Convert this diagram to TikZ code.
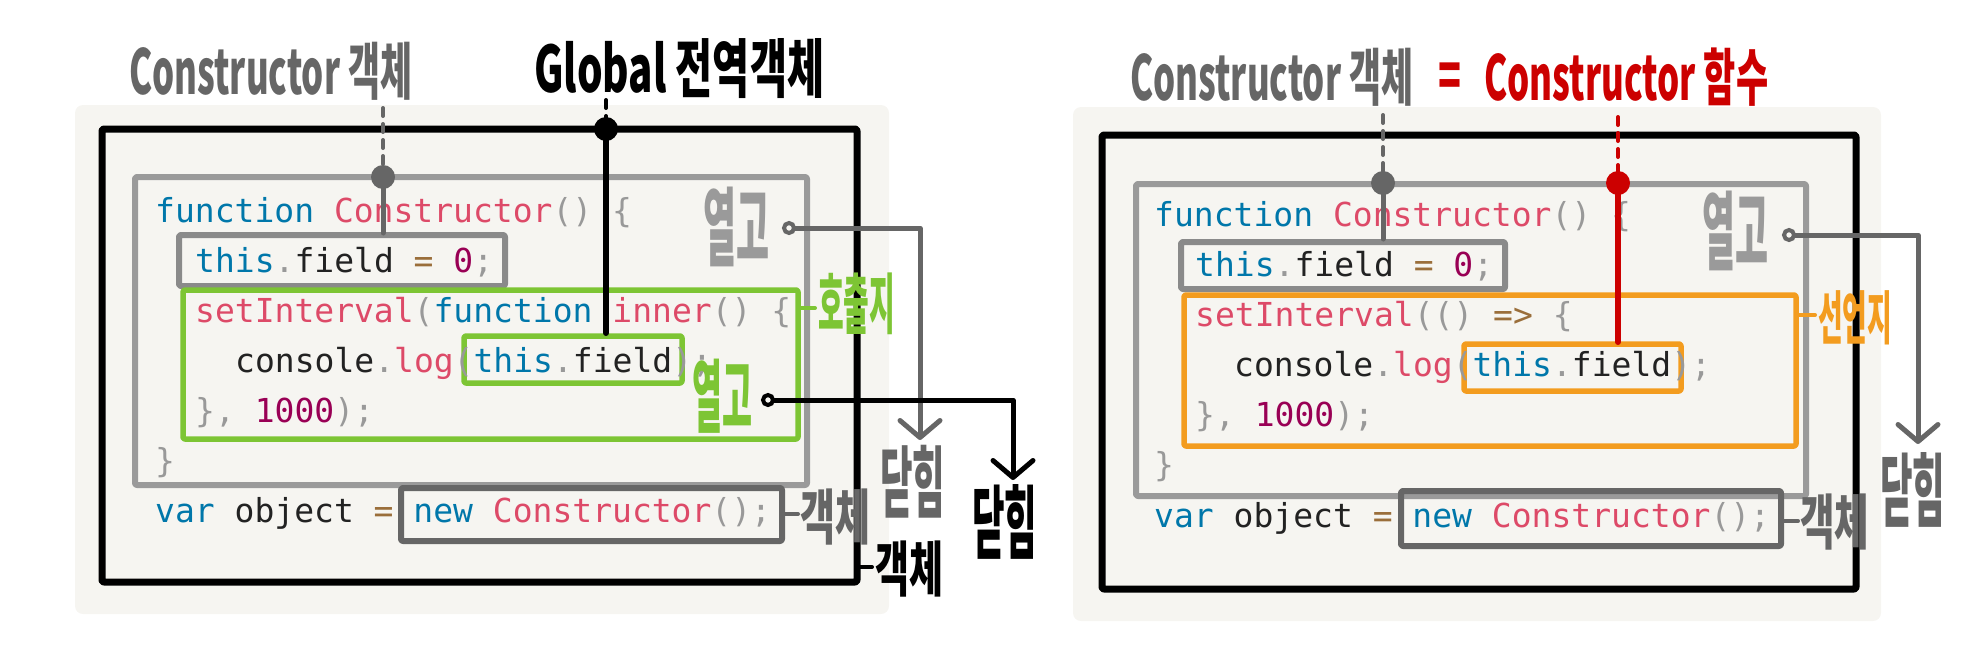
\documentclass[tikz,border=0pt]{standalone}
\usepackage{fontspec}
\usetikzlibrary{arrows.meta}
\newfontfamily\codefont{DejaVu Sans Mono}
\newfontfamily\krfont{Noto Sans CJK KR}
\definecolor{bgc}{HTML}{F6F5F1}
\definecolor{kw}{HTML}{0077AA}
\definecolor{fn}{HTML}{DD4A68}
\definecolor{pu}{HTML}{999999}
\definecolor{op}{HTML}{9A6E3A}
\definecolor{nu}{HTML}{990055}
\definecolor{tx}{HTML}{222222}
\definecolor{gA}{HTML}{9A9A9A}
\definecolor{gB}{HTML}{8A8A8A}
\definecolor{gC}{HTML}{666666}
\definecolor{grn}{HTML}{7DC534}
\definecolor{org}{HTML}{F39C1F}
\definecolor{rd}{HTML}{CC0000}
\newcommand\ckw[1]{\textcolor{kw}{#1}}
\newcommand\cfn[1]{\textcolor{fn}{#1}}
\newcommand\cpu[1]{\textcolor{pu}{#1}}
\newcommand\cop[1]{\textcolor{op}{#1}}
\newcommand\cnu[1]{\textcolor{nu}{#1}}
\newcommand\hw[2]{\resizebox{#1pt}{\height}{#2}}
\tikzset{
  code/.style={anchor=base west, inner sep=0, text=tx, font=\codefont\fontsize{33}{40}\selectfont},
  lab/.style={inner sep=0, font=\krfont\bfseries\fontsize{#1}{#1}\selectfont},
  box/.style={line width=6pt, line join=round, rounded corners=2pt},
  conn/.style={line width=5pt, line cap=round, line join=round},
  dash5/.style={line width=4pt, line cap=round, dash pattern=on 8pt off 8pt},
  tipv/.style={-{Straight Barb[length=17pt,width=40pt,round]}},
  ring/.style={line width=4pt, fill=bgc},
}
\begin{document}
\begin{tikzpicture}[x=1pt,y=-1pt]
\useasboundingbox (0,0) rectangle (1985,653);
% backgrounds
\fill[bgc, rounded corners=8pt] (75,105) rectangle (889,614);
\fill[bgc, rounded corners=8pt] (1073,107) rectangle (1881,621);

% ===== LEFT =====
\draw[box, line width=7pt] (102,129) rectangle (857,582);
\draw[box, gA] (135,177) rectangle (807,485);
\draw[box, gB] (179,235) rectangle (505,286);
\draw[box, grn, line width=5.5pt] (183,290) rectangle (798,439);
\draw[box, grn, line width=5.5pt] (464,336) rectangle (682,383);
\draw[box, gC] (401,488) rectangle (782,541);

\node[code] (l1) at (155,222) {\ckw{function} \cfn{Constructor}\cpu{() \{}};
\node[code] (l2) at (195,272) {\ckw{this}\cpu{.}field \cop{=} \cnu{0}\cpu{;}};
\node[code] (l3) at (195,322) {\cfn{setInterval}\cpu{(}\ckw{function} \cfn{inner}\cpu{() \{}};
\node[code] (l4) at (235,372) {console\cpu{.}\cfn{log}\cpu{(}\ckw{this}\cpu{.}field\cpu{);}};
\node[code] (l5) at (195,422) {\cpu{\},} \cnu{1000}\cpu{);}};
\node[code] (l6) at (155,472) {\cpu{\}}};
\node[code] (l7) at (155,522) {\ckw{var} object \cop{=} \ckw{new} \cfn{Constructor}\cpu{();}};

% top labels
\node[lab=62, anchor=base west, text=gC] (lc) at (129,94) {\hw{283}{Constructor 객체}};
\node[lab=64, anchor=base west, text=black] (lg) at (534,92) {\hw{290}{Global 전역객체}};

% dots and lines
\coordinate (gd) at (383,177);
\coordinate (gdt) at (383,108);
\coordinate (gde) at (383,233);
\draw[dash5, gC] (gdt) -- (gd);
\draw[conn, gC] (gd) -- (gde);
\fill[gC] (gd) circle (12pt);

\coordinate (bd) at (606,129);
\coordinate (bdt) at (606,100);
\coordinate (bde) at (606,333);
\draw[dash5, black] (bdt) -- (bd);
\draw[conn, black, line width=6pt] (bd) -- (bde);
\fill[black] (bd) circle (12pt);

% open/close labels
\node[lab=86, anchor=west, text=gA] (lo1) at (703,227) {\hw{66}{열고}};
\node[lab=80, anchor=west, text=grn] (lo2) at (692,396) {\hw{60}{열고}};
\node[lab=66, anchor=west, text=grn] (lh) at (818,304) {\hw{77}{호출지}};
\node[lab=78, anchor=west, text=gC] (lcl1) at (880,482) {\hw{65}{닫힘}};
\node[lab=80, anchor=west, text=black] (lcl2) at (972,522) {\hw{65}{닫힘}};
\node[lab=60, anchor=west, text=gC] (lob1) at (800,517) {\hw{70}{객체}};
\node[lab=60, anchor=west, text=black] (lob2) at (875,569) {\hw{68}{객체}};

% ticks
\coordinate (th1) at (798,308); \coordinate (th2) at (815,308);
\draw[conn, grn, line width=4pt] (th1) -- (th2);
\coordinate (to1) at (782,514); \coordinate (to2) at (798,514);
\draw[conn, gC, line width=4pt] (to1) -- (to2);
\coordinate (tb1) at (857,567); \coordinate (tb2) at (872,567);
\draw[conn, black, line width=4pt] (tb1) -- (tb2);

% open -> close connectors
\coordinate (r1) at (789,228);
\coordinate (r1a) at (920,228);
\coordinate (r1b) at (920,440);
\draw[conn, gC, tipv] (r1) -- (r1a) -- (r1b);
\draw[ring, draw=gC] (r1) circle (5pt);
\coordinate (r2) at (768,400);
\coordinate (r2a) at (1013,400);
\coordinate (r2b) at (1013,480);
\draw[conn, black, tipv] (r2) -- (r2a) -- (r2b);
\draw[ring, draw=black] (r2) circle (5pt);

% ===== RIGHT =====
\draw[box, line width=7pt] (1102,135) rectangle (1856,589);
\draw[box, gA] (1136,184) rectangle (1806,496);
\draw[box, gB] (1181,242) rectangle (1505,289);
\draw[box, org, line width=5.5pt] (1184,295) rectangle (1796,446);
\draw[box, org, line width=5.5pt] (1464,344) rectangle (1681,391);
\draw[box, gC] (1401,491) rectangle (1781,546);

\node[code] (r1l) at (1154,226) {\ckw{function} \cfn{Constructor}\cpu{() \{}};
\node[code] (r2l) at (1195,276) {\ckw{this}\cpu{.}field \cop{=} \cnu{0}\cpu{;}};
\node[code] (r3l) at (1195,326) {\cfn{setInterval}\cpu{(()} \cop{=>} \cpu{\{}};
\node[code] (r4l) at (1234,376) {console\cpu{.}\cfn{log}\cpu{(}\ckw{this}\cpu{.}field\cpu{);}};
\node[code] (r5l) at (1195,426) {\cpu{\},} \cnu{1000}\cpu{);}};
\node[code] (r6l) at (1154,476) {\cpu{\}}};
\node[code] (r7l) at (1154,527) {\ckw{var} object \cop{=} \ckw{new} \cfn{Constructor}\cpu{();}};

\node[lab=62, anchor=base west, text=gC] (rc) at (1130,100) {\hw{283}{Constructor 객체}};
\node[lab=62, anchor=west, text=rd] (req) at (1438,81) {\hw{23}{=}};
\node[lab=62, anchor=base west, text=rd] (rf) at (1484,100) {\hw{284}{Constructor 함수}};

\coordinate (rgd) at (1383,183);
\coordinate (rgdt) at (1383,115);
\coordinate (rgde) at (1383,239);
\draw[dash5, gC] (rgdt) -- (rgd);
\draw[conn, gC] (rgd) -- (rgde);
\fill[gC] (rgd) circle (12pt);

\coordinate (rrd) at (1618,183);
\coordinate (rrdt) at (1618,117);
\coordinate (rrde) at (1618,342);
\draw[dash5, rd] (rrdt) -- (rrd);
\draw[conn, rd, line width=6pt] (rrd) -- (rrde);
\fill[rd] (rrd) circle (12pt);

\node[lab=86, anchor=west, text=gA] (ro1) at (1702,231) {\hw{66}{열고}};
\node[lab=58, anchor=west, text=org] (rs) at (1818,318) {\hw{74}{선언지}};
\node[lab=80, anchor=west, text=gC] (rcl1) at (1880,490) {\hw{65}{닫힘}};
\node[lab=60, anchor=west, text=gC] (rob1) at (1800,522) {\hw{69}{객체}};

\coordinate (rs1) at (1796,315); \coordinate (rs2) at (1815,315);
\draw[conn, org, line width=4pt] (rs1) -- (rs2);
\coordinate (ro1a) at (1781,521); \coordinate (ro1b) at (1798,521);
\draw[conn, gC, line width=4pt] (ro1a) -- (ro1b);

\coordinate (rr1) at (1789,235);
\coordinate (rr1a) at (1918,235);
\coordinate (rr1b) at (1918,444);
\draw[conn, gC, tipv] (rr1) -- (rr1a) -- (rr1b);
\draw[ring, draw=gC] (rr1) circle (5pt);
\end{tikzpicture}
\end{document}
